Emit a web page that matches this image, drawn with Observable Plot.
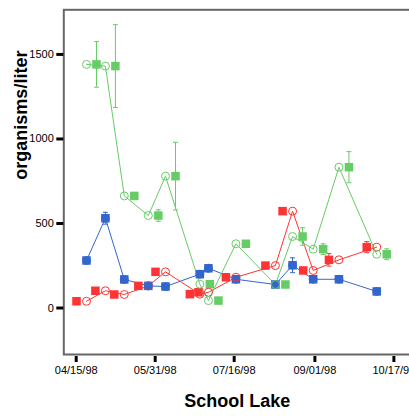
<!DOCTYPE html>
<html>
<head>
<meta charset="utf-8">
<script src="https://cdn.jsdelivr.net/npm/d3@7"></script>
<script src="https://cdn.jsdelivr.net/npm/@observablehq/plot@0.6"></script>
<style>
  html, body { margin: 0; padding: 0; background: #fff; overflow: hidden; }
</style>
</head>
<body>
<div id="chart"></div>
<script>
// Sampling dates (1998) and mean counts with error half-widths, per series
const sampleDates = ["1998-04-21", "1998-05-02", "1998-05-13", "1998-05-27", "1998-06-06", "1998-06-26", "1998-07-01",
                     "1998-07-17", "1998-08-09", "1998-08-19", "1998-08-31", "1998-09-15", "1998-10-07"];
const blueMeans   = [281, 531, 169, 131, 127, 200, 235, 170, 139, 253, 170, 170, 98];
const blueErrors  = [8, 35, 8, 8, 8, 8, 8, 8, 8, 44, 8, 8, 8];
const redMeans    = [40, 102, 80, 131, 214, 82, 93, 182, 251, 573, 222, 285, 360];
const redErrors   = [8, 8, 8, 8, 8, 8, 8, 8, 8, 10, 8, 37, 33];
const greenMeans  = [1441, 1431, 663, 547, 780, 141, 44, 380, 139, 423, 348, 833, 318];
const greenErrors = [135, 245, 12, 34, 200, 8, 8, 12, 8, 52, 32, 92, 32];

const xTickDates = ["1998-04-15", "1998-05-31", "1998-07-16", "1998-09-01", "1998-10-17"];
const yTickValues = [0, 500, 1000, 1500];
const xTitle = "School Lake";
const yTitle = "organisms/liter";

const parse = d3.utcParse("%Y-%m-%d");
const rows = (means, errors) => sampleDates.map((d, i) => ({
  date: parse(d), value: means[i], lo: means[i] - errors[i], hi: means[i] + errors[i]
}));

const series = [
  {color: "#ff3333", data: rows(redMeans, redErrors), offset: -10},
  {color: "#3366cc", data: rows(blueMeans, blueErrors), offset: 0},
  {color: "#66cc66", data: rows(greenMeans, greenErrors), offset: 10}
];

// short horizontal stroke used for error-bar caps
const capSymbol = {draw(ctx) { ctx.moveTo(-2.5, 0); ctx.lineTo(2.5, 0); }};

const marks = [Plot.frame({stroke: "#666", strokeWidth: 2})];
for (const s of series) {
  marks.push(Plot.line(s.data, {x: "date", y: "value", stroke: s.color, strokeWidth: 1}));
}
for (const s of series) {
  marks.push(Plot.ruleX(s.data, {x: "date", y1: "lo", y2: "hi", stroke: s.color, strokeWidth: 1, dx: s.offset}));
  marks.push(Plot.dot(s.data, {x: "date", y: "lo", symbol: capSymbol, stroke: s.color, strokeWidth: 1, dx: s.offset}));
  marks.push(Plot.dot(s.data, {x: "date", y: "hi", symbol: capSymbol, stroke: s.color, strokeWidth: 1, dx: s.offset}));
}
for (const s of series) {
  marks.push(Plot.dot(s.data, {x: "date", y: "value", symbol: "square", r: 4.8, fill: s.color, stroke: "none", dx: s.offset}));
}
for (const s of series) {
  marks.push(Plot.dot(s.data, {x: "date", y: "value", r: 4, fill: "none", stroke: s.color, strokeWidth: 1}));
}

marks.push(
  Plot.axisX({ticks: xTickDates.map(parse), tickFormat: d3.utcFormat("%m/%d/%y"), tickSize: 6, tickPadding: 4,
              strokeWidth: 3, fontSize: 11, label: null, anchor: "bottom", dy: 2}),
  Plot.axisY({ticks: yTickValues, tickFormat: d3.format("d"), tickSize: 7, tickPadding: 3, strokeWidth: 3,
              fontSize: 11, label: null, anchor: "left"}),
  Plot.text([xTitle], {frameAnchor: "bottom", lineAnchor: "middle", dy: 47, dx: -1.5, fontSize: 18, fontWeight: "bold", fill: "#000"}),
  Plot.text([yTitle], {frameAnchor: "left", rotate: -90, dx: -43, dy: -2.5, fontSize: 18, fontWeight: "bold", fill: "#000"})
);

const chart = Plot.plot({
  width: 409,
  height: 416,
  marginLeft: 63.3,
  marginTop: 9.3,
  marginBottom: 62,
  marginRight: -4,
  style: {fontFamily: "'Liberation Sans', Arial, sans-serif", fontSize: "11px", background: "#fff", color: "#000"},
  x: {type: "utc", domain: [new Date("1998-04-07T18:40Z"), new Date("1998-10-28T10:00Z")]},
  y: {domain: [-275, 1764]},
  marks
});
document.getElementById("chart").appendChild(chart);
</script>
</body>
</html>
